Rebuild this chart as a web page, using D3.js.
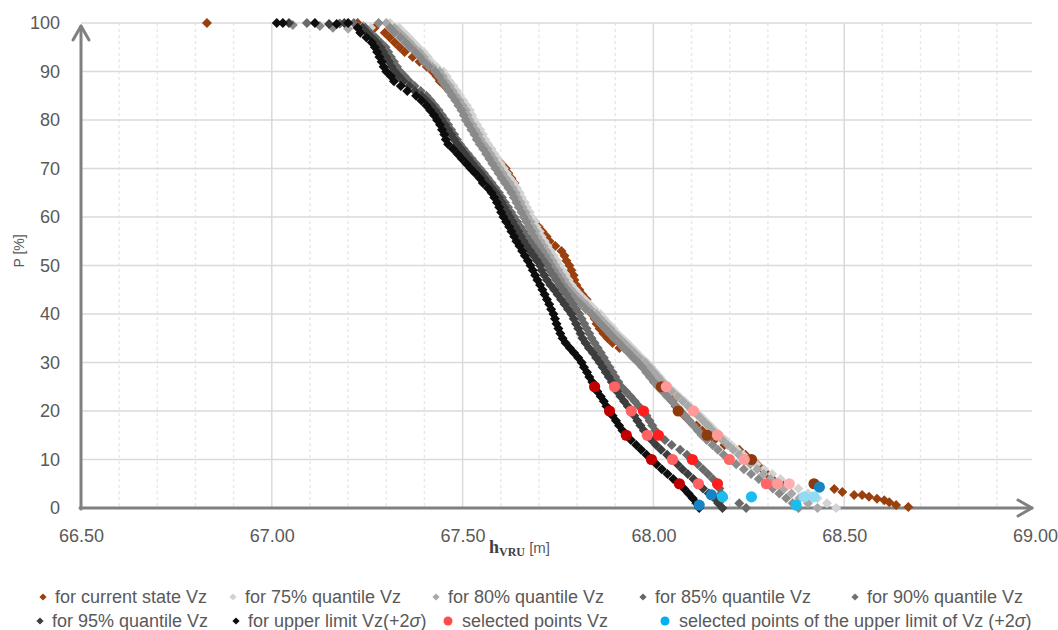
<!DOCTYPE html>
<html>
<head>
<meta charset="utf-8">
<script src="https://cdn.jsdelivr.net/npm/d3@7"></script>
<style>
  body { margin: 0; background: #ffffff; }
  svg { display: block; font-family: "Liberation Sans", Arial, sans-serif; }
</style>
</head>
<body>
<svg id="chart" width="1058" height="630"></svg>
<script>
// Exceedance probability levels P [%] shared by the series arrays (index 0 -> P = 100)
const pLevels = [100,99,98,97,96,95,94,93,92,91,90,89,88,87,86,85,84,83,82,81,
  80,79,78,77,76,75,74,73,72,71,70,69,68,67,66,65,64,63,62,61,
  60,59,58,57,56,55,54,53,52,51,50,49,48,47,46,45,44,43,42,41,
  40,39,38,37,36,35,34,33,32,31,30,29,28,27,26,25,24,23,22,21,
  20,19,18,17,16,15,14,13,12,11,10,9,8,7,6,5,4,3,2,1,0];

const xTicks = [66.5, 67.0, 67.5, 68.0, 68.5, 69.0];
const xMajorGrid = [67.0, 67.5, 68.0, 68.5];
const xMinorGrid = [66.6,66.7,66.8,66.9,67.1,67.2,67.3,67.4,67.6,67.7,67.8,67.9,68.1,68.2,68.3,68.4,68.6,68.7,68.8,68.9];
const yTicks = [0,10,20,30,40,50,60,70,80,90,100];

// hVRU [m] at each P level
const currentState = [
  67.225,67.270,67.296,67.309,67.322,67.335,67.348,67.369,67.387,67.406,
  67.421,67.432,67.440,67.453,67.466,67.479,67.487,67.497,67.505,67.513,
  67.518,67.526,67.534,67.539,67.545,67.550,67.563,67.576,67.589,67.602,
  67.613,67.620,67.628,67.636,67.639,67.644,67.652,67.660,67.665,67.670,
  67.675,67.689,67.699,67.709,67.720,67.728,67.743,67.759,67.767,67.772,
  67.780,67.785,67.791,67.793,67.798,67.806,67.814,67.825,67.827,67.832,
  67.838,67.846,67.851,67.859,67.869,67.880,67.893,67.911,67.937,67.950,
  67.969,67.990,68.000,68.005,68.013,68.021,68.031,68.042,68.050,68.058,
  68.065,68.081,68.094,68.113,68.128,68.141,68.160,68.186,68.225,68.241,
  68.257,68.272,68.285,68.298,68.312,68.338];
const currentStateTail = [[66.830,100],[68.474,3.9],[68.495,3.3],[68.526,2.7],[68.547,2.7],
  [68.565,2.3],[68.586,1.9],[68.605,1.6],[68.618,1.2],[68.636,0.6],[68.668,0.2]];

const quantile75 = [
  67.310,67.334,67.347,67.360,67.372,67.384,67.398,67.409,67.418,67.432,
  67.450,67.458,67.466,67.476,67.485,67.493,67.502,67.511,67.519,67.525,
  67.530,67.538,67.546,67.553,67.559,67.567,67.576,67.584,67.592,67.600,
  67.608,67.616,67.624,67.634,67.642,67.650,67.655,67.663,67.668,67.676,
  67.681,67.689,67.694,67.702,67.707,67.715,67.723,67.731,67.739,67.747,
  67.754,67.762,67.770,67.778,67.786,67.796,67.807,67.820,67.833,67.846,
  67.861,67.871,67.883,67.895,67.906,67.919,67.932,67.945,67.957,67.970,
  67.983,67.995,68.006,68.017,68.028,68.040,68.054,68.068,68.082,68.096,
  68.110,68.123,68.136,68.149,68.162,68.175,68.189,68.204,68.219,68.235,
  68.250,68.270,68.290,68.311,68.333,68.356,68.380,68.405,68.430,68.455,
  68.479];
const quantile75Tail = [[67.260,99.0]];

const quantile80 = [
  67.300,67.322,67.335,67.348,67.361,67.372,67.387,67.398,67.406,67.421,
  67.440,67.448,67.455,67.466,67.474,67.482,67.492,67.500,67.508,67.513,
  67.518,67.526,67.534,67.542,67.547,67.555,67.565,67.573,67.581,67.589,
  67.597,67.605,67.613,67.623,67.631,67.639,67.644,67.652,67.657,67.665,
  67.670,67.678,67.683,67.691,67.696,67.704,67.712,67.720,67.728,67.736,
  67.743,67.751,67.759,67.767,67.775,67.785,67.796,67.809,67.822,67.835,
  67.851,67.861,67.874,67.887,67.898,67.911,67.924,67.937,67.950,67.963,
  67.978,67.990,68.001,68.012,68.023,68.034,68.048,68.063,68.077,68.091,
  68.105,68.117,68.130,68.143,68.155,68.168,68.181,68.195,68.209,68.224,
  68.238,68.254,68.272,68.289,68.307,68.325,68.343,68.362,68.382,68.405,
  68.430];
const quantile80Tail = [[67.200,98.8],[67.240,99.4]];

const quantile85 = [
  67.280,67.310,67.322,67.337,67.350,67.362,67.376,67.388,67.398,67.412,
  67.428,67.438,67.446,67.455,67.464,67.472,67.481,67.489,67.497,67.503,
  67.508,67.516,67.523,67.531,67.537,67.545,67.554,67.562,67.570,67.578,
  67.586,67.594,67.602,67.611,67.620,67.628,67.634,67.641,67.647,67.654,
  67.660,67.667,67.673,67.680,67.686,67.693,67.701,67.709,67.717,67.725,
  67.732,67.740,67.748,67.756,67.764,67.774,67.785,67.797,67.810,67.823,
  67.838,67.849,67.861,67.873,67.885,67.897,67.910,67.922,67.935,67.947,
  67.960,67.971,67.981,67.991,68.001,68.012,68.024,68.036,68.048,68.060,
  68.072,68.083,68.094,68.105,68.116,68.127,68.140,68.155,68.169,68.184,
  68.199,68.217,68.237,68.256,68.276,68.296,68.313,68.330,68.348,68.365,
  68.380];
const quantile85Tail = [[67.055,99.6],[67.126,99.4],[67.160,99.0]];

const quantile90 = [
  67.215,67.245,67.258,67.272,67.285,67.298,67.305,67.312,67.320,67.328,
  67.336,67.348,67.360,67.374,67.390,67.405,67.416,67.427,67.437,67.446,
  67.455,67.462,67.470,67.478,67.485,67.493,67.503,67.514,67.524,67.535,
  67.545,67.556,67.566,67.576,67.586,67.595,67.603,67.611,67.619,67.627,
  67.635,67.643,67.651,67.659,67.667,67.675,67.684,67.694,67.703,67.712,
  67.722,67.728,67.737,67.745,67.754,67.763,67.772,67.780,67.789,67.797,
  67.806,67.812,67.819,67.825,67.832,67.838,67.846,67.854,67.862,67.870,
  67.877,67.885,67.893,67.900,67.908,67.916,67.928,67.940,67.951,67.962,
  67.974,67.982,67.990,67.997,68.005,68.013,68.030,68.048,68.070,68.088,
  68.102,68.116,68.130,68.143,68.156,68.168,68.173,68.178,68.183,68.225,
  68.243];
const quantile90Tail = [[67.092,100],[67.178,99.9]];

const quantile95 = [
  67.190,67.238,67.250,67.262,67.275,67.285,67.292,67.300,67.307,67.314,
  67.322,67.333,67.345,67.360,67.375,67.392,67.405,67.418,67.428,67.437,
  67.446,67.454,67.462,67.470,67.478,67.486,67.496,67.506,67.516,67.526,
  67.536,67.547,67.557,67.567,67.577,67.587,67.595,67.603,67.610,67.617,
  67.624,67.631,67.638,67.646,67.653,67.660,67.668,67.677,67.686,67.695,
  67.703,67.707,67.714,67.721,67.730,67.740,67.749,67.758,67.767,67.776,
  67.785,67.791,67.797,67.803,67.809,67.814,67.822,67.831,67.841,67.850,
  67.859,67.867,67.875,67.883,67.891,67.898,67.905,67.914,67.923,67.933,
  67.942,67.950,67.958,67.966,67.975,67.984,67.995,68.007,68.020,68.036,
  68.050,68.063,68.076,68.090,68.105,68.118,68.130,68.145,68.160,68.170,
  68.181];
const quantile95Tail = [[67.045,100],[67.150,99.8]];

const upperLimit = [
  67.200,67.225,67.232,67.248,67.262,67.270,67.276,67.282,67.288,67.293,
  67.300,67.312,67.320,67.338,67.355,67.378,67.392,67.405,67.415,67.425,
  67.433,67.441,67.446,67.452,67.456,67.462,67.475,67.487,67.498,67.510,
  67.521,67.533,67.545,67.553,67.566,67.576,67.583,67.590,67.596,67.601,
  67.607,67.614,67.622,67.628,67.635,67.641,67.649,67.656,67.663,67.671,
  67.678,67.684,67.690,67.696,67.703,67.709,67.715,67.721,67.727,67.732,
  67.738,67.742,67.746,67.751,67.756,67.762,67.770,67.781,67.792,67.803,
  67.812,67.818,67.826,67.832,67.840,67.846,67.853,67.862,67.870,67.877,
  67.885,67.893,67.902,67.910,67.919,67.929,67.941,67.955,67.968,67.982,
  67.995,68.008,68.022,68.037,68.052,68.068,68.080,68.092,68.103,68.113,
  68.120];
const upperLimitTail = [[67.013,100],[67.029,100],[67.113,100],[67.170,99.8]];

// selected points Vz, [hVRU, P]
const selectedUpper = [[67.846,25],[67.885,20],[67.929,15],[67.995,10],[68.068,5]];
const selected95 = [[67.898,25],[67.942,20],[67.984,15],[68.050,10],[68.118,5]];
const selected90 = [[67.974,20],[68.013,15],[68.102,10],[68.168,5]];
const selected85 = [[68.199,10],[68.296,5]];
const selected80 = [[68.034,25],[68.105,20],[68.168,15],[68.238,10],[68.325,5]];
const selected75 = [[68.356,5]];
const selectedCurrent = [[68.021,25],[68.065,20],[68.141,15],[68.257,10],[68.421,5]];

// selected points of the upper limit of Vz (+2σ), [hVRU, P]
const limitPointsDark = [[68.120,0.6],[68.152,2.7],[68.435,4.3]];
const limitPointsBright = [[68.181,2.3],[68.257,2.3],[68.374,0.6]];
const limitPointsLight = [[68.395,2.3],[68.421,2.3]];

const legendLabels = [
  "for current state Vz", "for 75% quantile Vz", "for 80% quantile Vz",
  "for 85% quantile Vz", "for 90% quantile Vz", "for 95% quantile Vz",
  "for upper limit Vz(+2σ)", "selected points Vz",
  "selected points of the upper limit of Vz (+2σ)"];

// ---------------------------------------------------------------------------
const svg = d3.select("#chart");
const x = d3.scaleLinear().domain([66.5, 69]).range([81, 1035]);
const y = d3.scaleLinear().domain([0, 100]).range([508, 23]);

const textGray = "#595959";
const axisGray = "#808080";

// gridlines
const grid = svg.append("g");
grid.selectAll("line.minor").data(xMinorGrid).join("line")
  .attr("class", "minor")
  .attr("x1", d => x(d)).attr("x2", d => x(d))
  .attr("y1", y(100)).attr("y2", y(0))
  .attr("stroke", "#e9e9e9").attr("stroke-width", 1.5)
  .attr("stroke-dasharray", "3,3");
grid.selectAll("line.vmajor").data(xMajorGrid).join("line")
  .attr("class", "vmajor")
  .attr("x1", d => x(d)).attr("x2", d => x(d))
  .attr("y1", y(100)).attr("y2", y(0))
  .attr("stroke", "#dadada").attr("stroke-width", 1.5);
grid.selectAll("line.hmajor").data(yTicks.filter(d => d > 0)).join("line")
  .attr("class", "hmajor")
  .attr("x1", x(66.5)).attr("x2", x(69) - 3)
  .attr("y1", d => y(d)).attr("y2", d => y(d))
  .attr("stroke", "#dadada").attr("stroke-width", 1.5);

// axes (labels only, lines drawn with arrowheads below)
const yAxis = svg.append("g")
  .attr("transform", `translate(${x(66.5)},0)`)
  .call(d3.axisLeft(y).tickValues(yTicks).tickSize(0).tickPadding(21));
yAxis.select(".domain").remove();
yAxis.selectAll("text")
  .attr("fill", textGray).style("font-size", "18px")
  .style("font-family", "'Liberation Sans', Arial, sans-serif");

const xAxis = svg.append("g")
  .attr("transform", `translate(0,${y(0)})`)
  .call(d3.axisBottom(x).tickValues(xTicks).tickFormat(d3.format(".2f")).tickSize(0).tickPadding(21));
xAxis.select(".domain").remove();
xAxis.selectAll("text")
  .attr("fill", textGray).style("font-size", "18px")
  .style("font-family", "'Liberation Sans', Arial, sans-serif");

const axisLines = svg.append("g")
  .attr("fill", "none").attr("stroke", axisGray)
  .attr("stroke-width", 3).attr("stroke-linecap", "round").attr("stroke-linejoin", "round");
const x0 = x(66.5), y0 = y(0);
axisLines.append("line").attr("x1", x0).attr("x2", x0).attr("y1", y0 + 1).attr("y2", 26);
axisLines.append("path").attr("d", `M${x0 - 8},40L${x0},26L${x0 + 8},40`);
axisLines.append("line").attr("x1", x0 - 1).attr("x2", 1032).attr("y1", y0).attr("y2", y0);
axisLines.append("path").attr("d", `M1018,${y0 - 8}L1032,${y0}L1018,${y0 + 8}`);

// axis titles
svg.append("text")
  .attr("transform", "translate(24,251) rotate(-90)")
  .attr("text-anchor", "middle")
  .attr("fill", textGray).style("font-size", "14px")
  .text("P [%]");

const xTitle = svg.append("text")
  .attr("x", 489).attr("y", 553)
  .attr("fill", "#404040");
xTitle.append("tspan")
  .style("font-family", "'Liberation Serif', 'Times New Roman', serif")
  .style("font-weight", "bold").style("font-size", "18px")
  .text("h");
xTitle.append("tspan")
  .attr("dy", 3)
  .style("font-family", "'Liberation Serif', 'Times New Roman', serif")
  .style("font-weight", "bold").style("font-size", "12px")
  .text("VRU");
xTitle.append("tspan")
  .attr("dy", -3)
  .attr("fill", textGray)
  .style("font-size", "15px")
  .text(" [m]");

// series
const diamond = r => `M0,${-r}L${r},0L0,${r}L${-r},0Z`;

const series = [
  { values: currentState, extra: currentStateTail, color: "#9a3f0e" },
  { values: quantile75, extra: quantile75Tail, color: "#d3d3d3" },
  { values: quantile80, extra: quantile80Tail, color: "#a8a8a8" },
  { values: quantile85, extra: quantile85Tail, color: "#8a8a8a" },
  { values: quantile90, extra: quantile90Tail, color: "#6a6a6a" },
  { values: quantile95, extra: quantile95Tail, color: "#3d3d3d" },
  { values: upperLimit, extra: upperLimitTail, color: "#0d0d0d" }
];

const marks = svg.append("g");
series.forEach(s => {
  const pts = s.values.map((h, i) => [h, pLevels[i]]).concat(s.extra);
  marks.append("g").selectAll("path").data(pts).join("path")
    .attr("d", diamond(5))
    .attr("transform", d => `translate(${x(d[0])},${y(d[1])})`)
    .attr("fill", s.color);
});

// selected points
const selectedGroups = [
  { pts: selectedCurrent, color: "#8f3a0c" },
  { pts: selected75, color: "#ffb1b1" },
  { pts: selected80, color: "#ff9a9a" },
  { pts: selected85, color: "#ff6767" },
  { pts: selected90, color: "#ff1e1e" },
  { pts: selected95, color: "#ff6262" },
  { pts: selectedUpper, color: "#c00000" },
  { pts: limitPointsDark, color: "#1684c2" },
  { pts: limitPointsBright, color: "#1bbdee" },
  { pts: limitPointsLight, color: "#8fdcf4" }
];
selectedGroups.forEach(g => {
  marks.append("g").selectAll("circle").data(g.pts).join("circle")
    .attr("cx", d => x(d[0])).attr("cy", d => y(d[1]))
    .attr("r", 5.6).attr("fill", g.color);
});

// legend
const legendItems = [
  { kind: "diamond", color: "#9a3f0e", mx: 43, my: 597 },
  { kind: "diamond", color: "#d3d3d3", mx: 233, my: 597 },
  { kind: "diamond", color: "#a8a8a8", mx: 436, my: 597 },
  { kind: "diamond", color: "#666666", mx: 643, my: 597 },
  { kind: "diamond", color: "#6f6f6f", mx: 855, my: 597 },
  { kind: "diamond", color: "#3d3d3d", mx: 40, my: 621 },
  { kind: "diamond", color: "#0d0d0d", mx: 236, my: 621 },
  { kind: "circle", color: "#ff4c4c", mx: 448, my: 621 },
  { kind: "circle", color: "#00b0f0", mx: 665, my: 621 }
];
const legend = svg.append("g");
legendItems.forEach((item, i) => {
  if (item.kind === "diamond") {
    legend.append("path").attr("d", diamond(3.6))
      .attr("transform", `translate(${item.mx},${item.my})`).attr("fill", item.color);
  } else {
    legend.append("circle").attr("cx", item.mx).attr("cy", item.my)
      .attr("r", 4.5).attr("fill", item.color);
  }
  const label = legendLabels[i];
  const t = legend.append("text")
    .attr("x", item.mx + (item.kind === "circle" ? 14 : 12))
    .attr("y", item.my + 6)
    .attr("fill", textGray).style("font-size", "18px");
  const parts = label.split("σ");
  parts.forEach((part, k) => {
    t.append("tspan").text(part);
    if (k < parts.length - 1) t.append("tspan").style("font-style", "italic").text("σ");
  });
});
</script>
</body>
</html>
